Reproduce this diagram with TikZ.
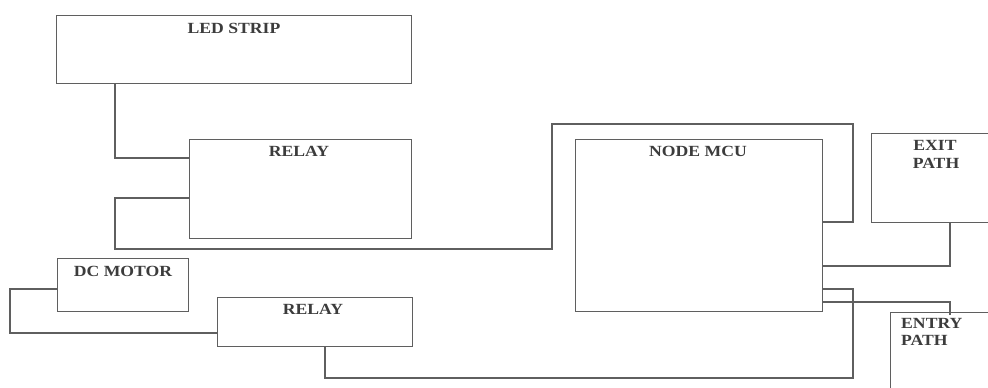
\documentclass[tikz,border=0pt]{standalone}
\usepackage{fontspec}
\newfontfamily\lbl{Liberation Serif Bold}[FakeStretch=1.14]
\definecolor{wire}{RGB}{95,95,95}
\definecolor{txt}{RGB}{60,60,60}
\begin{document}
\begin{tikzpicture}[x=1pt,y=-1pt,
  blk/.style={draw=wire,line width=1.4pt,rectangle,inner sep=0pt,anchor=north west},
  lab/.style={font=\lbl\fontsize{15.5}{18}\selectfont,text=txt,inner sep=0pt,anchor=base},
  labl/.style={lab,anchor=base west},
  wr/.style={draw=wire,line width=1.4pt}]
\useasboundingbox (0,0) rectangle (988,388);
\clip (0,0) rectangle (988,388);
% boxes
\node[blk,minimum width=355pt,minimum height=68pt] (led) at (56,15) {};
\node[blk,minimum width=222pt,minimum height=99pt] (relay1) at (189,139) {};
\node[blk,minimum width=247pt,minimum height=172pt] (mcu) at (575,139) {};
\node[blk,minimum width=140pt,minimum height=89pt] (exit) at (871,133) {};
\node[blk,minimum width=140pt,minimum height=100pt] (entry) at (890,312) {};
\node[blk,minimum width=131pt,minimum height=53pt] (dcm) at (57,258) {};
\node[blk,minimum width=195pt,minimum height=49pt] (relay2) at (217,297) {};
% labels
\node[lab] (ledT) at (234,33.5) {LED STRIP};
\node[lab] (relay1T) at (299,156.5) {RELAY};
\node[lab] (mcuT) at (698,156) {NODE MCU};
\node[lab] (exitT1) at (935,150.5) {EXIT};
\node[lab] (exitT2) at (936,168.5) {PATH};
\node[labl] (entryT1) at (901,328.5) {ENTRY};
\node[labl] (entryT2) at (901,345.5) {PATH};
\node[lab] (dcmT) at (123,276.5) {DC MOTOR};
\node[lab] (relay2T) at (313,314.5) {RELAY};
% connectors
\draw[wr] (115,0 |- led.south) |- (relay1.west |- 0,158);
\draw[wr] (relay1.west |- 0,198) -| (115,249) -- (552,249) |- (853,124) |- (mcu.east |- 0,222);
\draw[wr] (950,0 |- exit.south) |- (mcu.east |- 0,266);
\draw[wr] (mcu.east |- 0,289) -| (853,378) -| (325,0 |- relay2.south);
\draw[wr] (mcu.east |- 0,302) -| (950,315);
\draw[wr] (dcm.west |- 0,289) -| (10,333) -- (relay2.west |- 0,333);
\end{tikzpicture}
\end{document}
